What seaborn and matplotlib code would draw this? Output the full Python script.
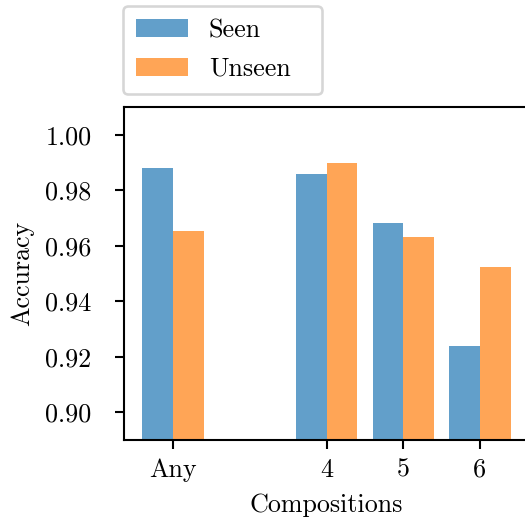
import numpy as np
import pandas as pd
import matplotlib
matplotlib.use("Agg")
import matplotlib.pyplot as plt
import seaborn as sns

# Data
positions = [0, 2, 3, 4]
tick_labels = ["Any", "4", "5", "6"]
seen = [0.988, 0.9858, 0.9682, 0.9239]
unseen = [0.9652, 0.9898, 0.9632, 0.9524]

plt.rcParams["font.family"] = "cmr10"
plt.rcParams["mathtext.fontset"] = "cm"
plt.rcParams["axes.formatter.use_mathtext"] = True
plt.rcParams["font.size"] = 10

df = pd.DataFrame({
    "pos": positions * 2,
    "acc": seen + unseen,
    "split": ["Seen"] * len(seen) + ["Unseen"] * len(unseen),
})

dpi = 187.5
fig = plt.figure(figsize=(525 / dpi, 519 / dpi), dpi=dpi)
ax = fig.add_axes([124 / 525, 1 - 440 / 519, 405 / 525, 333 / 519])

sns.barplot(data=df, x="pos", y="acc", hue="split", native_scale=True,
            palette=["tab:blue", "tab:orange"], saturation=1, alpha=0.7,
            width=0.8, ax=ax)

ax.set_xticks(positions)
ax.set_xticklabels(tick_labels)
ax.set_xlim(-0.64, 4.64)
ax.set_ylim(0.89, 1.01)
ax.set_yticks([0.90, 0.92, 0.94, 0.96, 0.98, 1.00])
ax.set_yticklabels(["0.90", "0.92", "0.94", "0.96", "0.98", "1.00"])
ax.tick_params(axis="y", pad=9)
ax.set_xlabel("Compositions", labelpad=4.5)
ax.set_ylabel("Accuracy")

# expand mode makes the legend frame as wide as in the reference
ax.legend(title=None, loc="lower left", mode="expand",
          bbox_to_anchor=(-0.003, 1.039, 0.492, 0.2), borderaxespad=0,
          borderpad=0.5, labelspacing=0.57)

fig.savefig("out.png", dpi=dpi)
